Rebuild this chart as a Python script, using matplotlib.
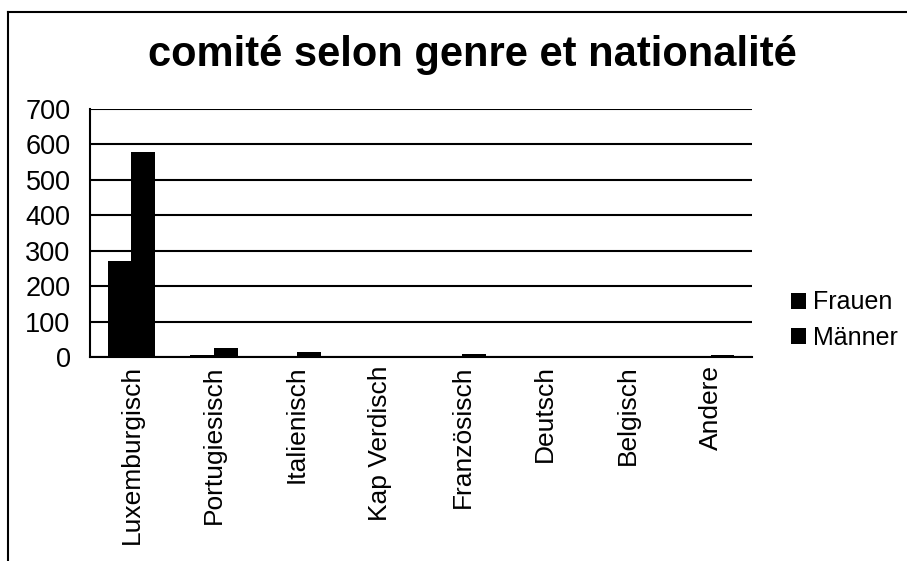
import numpy as np
import matplotlib
matplotlib.use('Agg')
import matplotlib.pyplot as plt
from matplotlib.lines import Line2D

plt.rcParams['font.family'] = ['Liberation Sans', 'DejaVu Sans']

categories = ['Luxemburgisch', 'Portugiesisch', 'Italienisch', 'Kap Verdisch',
              'Französisch', 'Deutsch', 'Belgisch', 'Andere']
frauen = [270, 5, 2, 1, 2, 1, 0, 4]
maenner = [580, 25, 13, 1, 8, 2, 1, 7]
yticks = [0, 100, 200, 300, 400, 500, 600, 700]

W, H = 907, 561
fig = plt.figure(figsize=(W / 100, H / 100), dpi=100)
ax = fig.add_axes([90 / W, 1 - 357 / H, 662 / W, 248 / H])

x = np.arange(len(categories))
bw = 1 / 3.5
ax.bar(x - bw / 2, frauen, bw, color='black', label='Frauen', zorder=3)
ax.bar(x + bw / 2, maenner, bw, color='black', label='Männer', zorder=3)

ax.set_xlim(-0.5, len(categories) - 0.5)
ax.set_ylim(0, 700)
ax.set_yticks(yticks)
ax.set_xticks(x)
ax.set_xticklabels(categories, rotation=90, fontsize=19)
ax.tick_params(axis='y', labelsize=19.5, length=0, pad=14)
ax.tick_params(axis='x', length=0, pad=6)
ax.yaxis.grid(True, color='black', linewidth=1.5, zorder=0)

for s in ['right', 'top']:
    ax.spines[s].set_visible(False)
ax.spines['left'].set_linewidth(1.5)
ax.spines['bottom'].set_linewidth(1.5)

fig.text(472 / W, 1 - 55 / H, 'comité selon genre et nationalité',
         ha='center', va='center', fontsize=30, fontweight='bold')

leg = ax.legend(loc='center left', bbox_to_anchor=(768 / W, 1 - 320 / H),
                bbox_transform=fig.transFigure, frameon=False, fontsize=18,
                handlelength=0.6, handleheight=0.6, handletextpad=0.3,
                labelspacing=0.45)

# outer frame (left and top edge of the chart box)
fig.add_artist(Line2D([8 / W, 8 / W], [0, 1 - 12 / H], transform=fig.transFigure,
                      color='black', linewidth=1.5))
fig.add_artist(Line2D([8 / W, 1], [1 - 12 / H, 1 - 12 / H], transform=fig.transFigure,
                      color='black', linewidth=1.5))

fig.savefig('out.png', dpi=100)
